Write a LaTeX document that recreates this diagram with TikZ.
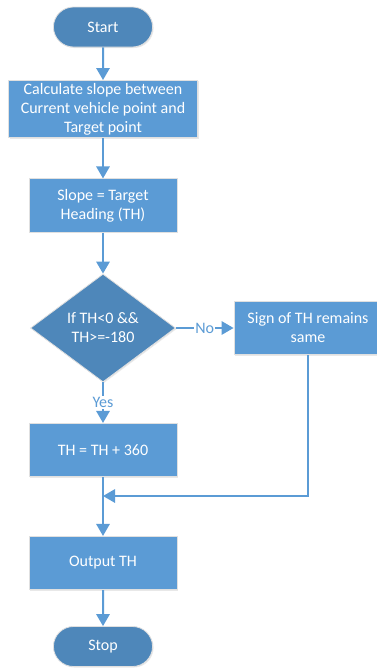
\documentclass[tikz,border=0pt]{standalone}
\usepackage{fontspec}
\setmainfont{Carlito}
\usetikzlibrary{shapes.geometric,shapes.misc,arrows.meta,shadows}
\definecolor{boxblue}{HTML}{5B9BD5}
\definecolor{termblue}{HTML}{4E87BA}

\begin{document}
\begin{tikzpicture}[x=0.75pt,y=-0.75pt,
  font=\fontsize{12}{14.25}\selectfont,
  base/.style={text=white,align=center,draw=black!12,line width=0.6pt,
    drop shadow={opacity=0.18,shadow xshift=0.8pt,shadow yshift=-0.8pt}},
  term/.style={base,rounded rectangle,fill=termblue,minimum width=81pt,minimum height=30pt},
  proc/.style={base,rectangle,fill=boxblue,minimum width=111pt,minimum height=40pt,inner sep=2pt},
  test/.style={base,diamond,fill=termblue,minimum width=108.75pt,minimum height=81pt,aspect=1.34,inner sep=0pt},
  flow/.style={draw=boxblue,line width=1.5pt,-{Triangle[width=10pt,length=9pt]}},
  lbl/.style={fill=white,text=boxblue,inner sep=1pt}]
\useasboundingbox (0,0) rectangle (376,668);

\node[term] (start) at (103,27) {Start};
\node[proc,minimum width=141.75pt,minimum height=40.5pt] (calc) at (103,109)
  {Calculate slope between\\Current vehicle point and\\Target point};
\node[proc] (slope) at (103,205.5) {Slope = Target\\Heading (TH)};
\node[test] (cond) at (103,328) {If TH<0 \&\&\\TH>=-180};
\node[proc] (sign) at (308,328) {Sign of TH remains\\same};
\node[proc] (upd) at (103,450) {TH = TH + 360};
\node[proc] (out) at (103,563) {Output TH};
\node[term] (stop) at (103,646.5) {Stop};
\coordinate (join) at (103,496);

\draw[flow] (start) -- (calc);
\draw[flow] (calc) -- (slope);
\draw[flow] (slope) -- (cond);
\draw[flow] (cond) -- node[lbl] {No} (sign);
\draw[flow] (cond) -- node[lbl] {Yes} (upd);
\draw[flow] (sign) |- (join);
\draw[flow] (upd) -- (out);
\draw[flow] (out) -- (stop);
\end{tikzpicture}
\end{document}
